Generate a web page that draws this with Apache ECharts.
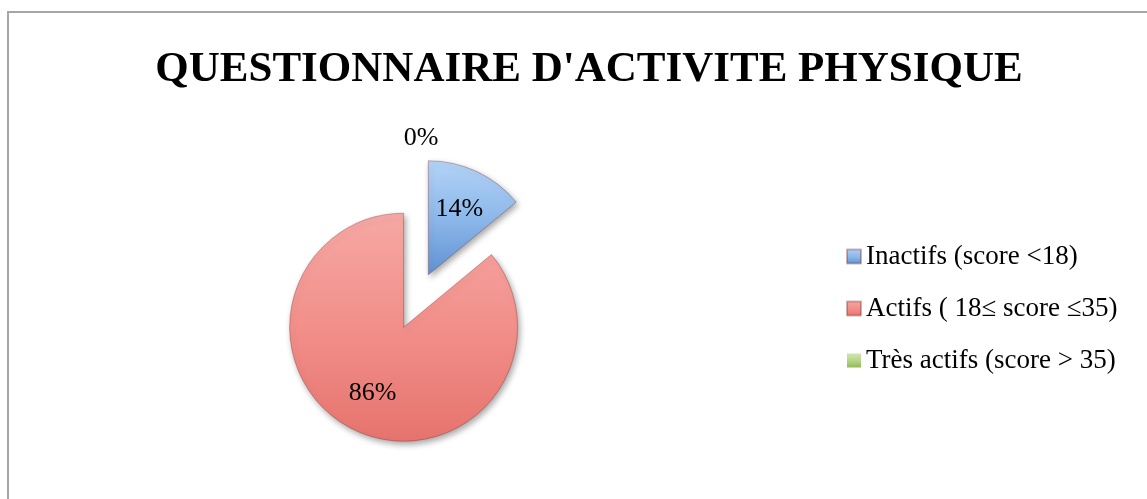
<!DOCTYPE html>
<html><head><meta charset="utf-8">
<script src="https://cdn.jsdelivr.net/npm/echarts@6/dist/echarts.min.js"></script>
<style>html,body{margin:0;padding:0;background:#fff}#c{width:1147px;height:499px}</style>
</head><body><div id="c"></div>
<script>
const titleText = "QUESTIONNAIRE D'ACTIVITE PHYSIQUE";
const categories = ['Inactifs (score <18)', 'Actifs ( 18\u2264 score \u226435)', 'Tr\u00e8s actifs (score > 35)'];
const values = [14, 86, 0];
const exploded = [true, true, false];

const serif = "'Liberation Serif', 'DejaVu Serif', serif";
const fills = [
  ['#b3d3f6', '#8db8ea', '#5f91d3'],
  ['#f6a8a4', '#f28f8a', '#e6736d'],
  ['#cfe6ad', '#b5d68a', '#93b956']
];
function grad(c){
  return {type:'linear', x:0, y:0, x2:0, y2:1, colorStops:[
    {offset:0, color:c[0]}, {offset:0.5, color:c[1]}, {offset:1, color:c[2]}]};
}

const pieData = categories.map((n, i) => ({
  name: n, value: values[i], selected: exploded[i],
  itemStyle: values[i] > 0 ? {color: grad(fills[i])}
    : {color: grad(fills[i]), borderWidth: 0, shadowBlur: 0, shadowOffsetX: 0, shadowOffsetY: 0, shadowColor: 'rgba(0,0,0,0)'},
  label: values[i] > 0 ? {show: false} : {show: true, position: 'outside'},
  labelLine: {show: false, length: 49, length2: 0}
}));
const labelData = categories.map((n, i) => ({
  name: n, value: values[i], selected: exploded[i],
  label: {show: values[i] > 0}
}));

const chart = echarts.init(document.getElementById('c'), null, {renderer: 'canvas'});
chart.setOption({
  animation: false,
  backgroundColor: '#fff',
  graphic: [{type: 'rect', shape: {x: 8, y: 12, width: 1200, height: 600},
    style: {fill: 'none', stroke: '#a6a6a6', lineWidth: 2}, z: -10}],
  title: {text: titleText, left: 584, top: 43, textAlign: 'center',
    textStyle: {fontFamily: serif, fontWeight: 'bold', fontSize: 43, color: '#000'}},
  legend: {orient: 'vertical', left: 841, top: 238, itemGap: 25, itemWidth: 14, itemHeight: 14,
    icon: 'rect', selectedMode: false, data: categories,
    textStyle: {fontFamily: serif, fontSize: 27, color: '#000'}},
  series: [{
    type: 'pie', center: [416, 301], radius: 114, startAngle: 90, clockwise: true,
    selectedMode: 'multiple', selectedOffset: 29, avoidLabelOverlap: false,
    itemStyle: {borderColor: 'rgba(120,40,40,0.35)', borderWidth: 1,
      shadowBlur: 6, shadowOffsetX: 2, shadowOffsetY: 3, shadowColor: 'rgba(0,0,0,0.35)'},
    label: {formatter: '{d}%', fontFamily: serif, fontSize: 26, color: '#000'},
    labelLayout: function (p) { return p.dataIndex === 2 ? {align: 'center'} : {}; },
    emphasis: {disabled: true},
    data: pieData
  }, {
    type: 'pie', center: [416, 301], radius: 140, startAngle: 90, clockwise: true,
    selectedMode: 'multiple', selectedOffset: 29, avoidLabelOverlap: false, silent: true,
    itemStyle: {color: 'rgba(0,0,0,0)', borderWidth: 0},
    label: {position: 'inside', formatter: '{d}%', fontFamily: serif, fontSize: 26, color: '#000'},
    labelLine: {show: false},
    emphasis: {disabled: true},
    data: labelData
  }]
});
</script></body></html>
